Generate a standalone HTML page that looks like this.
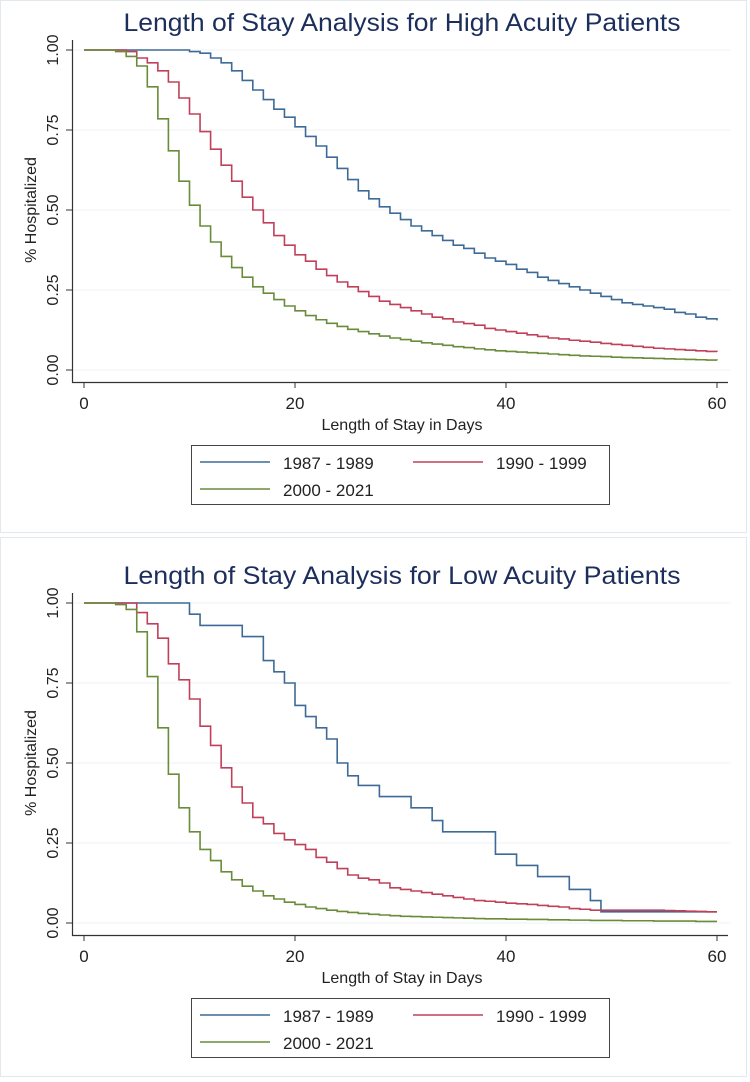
<!DOCTYPE html>
<html><head><meta charset="utf-8"><style>
body{margin:0;background:#fff;font-family:"Liberation Sans",sans-serif}
svg text{font-family:"Liberation Sans",sans-serif}
</style></head><body>
<svg id="root" width="750" height="1077" xmlns="http://www.w3.org/2000/svg"></svg>
<script>
const days = Array.from({length:61},(_,i)=>i);
const xTicks = [0,20,40,60];
const yTicks = [0,0.25,0.5,0.75,1];
const yTickLabels = ["0.00","0.25","0.50","0.75","1.00"];
const seriesNames = ["1987 - 1989","1990 - 1999","2000 - 2021"];
const highBlue = [1,1,1,1,1,1,1,1,1,1,0.995,0.99,0.975,0.96,0.935,0.905,0.875,0.845,0.815,0.79,0.76,0.73,0.70,0.665,0.63,0.595,0.56,0.535,0.51,0.49,0.47,0.45,0.435,0.42,0.405,0.39,0.38,0.365,0.35,0.34,0.33,0.315,0.305,0.29,0.28,0.27,0.26,0.25,0.24,0.23,0.22,0.21,0.205,0.2,0.195,0.19,0.18,0.175,0.165,0.16,0.155];
const highRed = [1,1,1,1,0.995,0.975,0.96,0.935,0.90,0.85,0.80,0.745,0.69,0.64,0.59,0.54,0.50,0.46,0.42,0.39,0.36,0.34,0.315,0.295,0.275,0.26,0.245,0.23,0.215,0.205,0.195,0.185,0.175,0.165,0.16,0.15,0.145,0.14,0.13,0.125,0.12,0.115,0.11,0.105,0.10,0.097,0.093,0.09,0.087,0.083,0.08,0.077,0.074,0.071,0.068,0.066,0.064,0.062,0.06,0.058,0.057];
const highGreen = [1,1,1,0.995,0.98,0.95,0.885,0.785,0.685,0.59,0.515,0.45,0.40,0.355,0.32,0.29,0.26,0.24,0.22,0.2,0.185,0.17,0.157,0.146,0.136,0.127,0.12,0.113,0.106,0.1,0.095,0.09,0.085,0.081,0.077,0.073,0.07,0.066,0.063,0.06,0.058,0.056,0.054,0.052,0.05,0.048,0.046,0.044,0.043,0.042,0.04,0.039,0.038,0.037,0.036,0.035,0.034,0.033,0.032,0.031,0.03];
const lowBlue = [1,1,1,1,1,1,1,1,1,1,0.965,0.93,0.93,0.93,0.93,0.895,0.895,0.82,0.785,0.75,0.68,0.645,0.61,0.575,0.50,0.46,0.43,0.43,0.395,0.395,0.395,0.36,0.36,0.32,0.285,0.285,0.285,0.285,0.285,0.215,0.215,0.18,0.18,0.145,0.145,0.145,0.105,0.105,0.07,0.035,0.035,0.035,0.035,0.035,0.035,0.035,0.035,0.035,0.035,0.035,0.035];
const lowRed = [1,1,1,1,1,0.97,0.935,0.89,0.81,0.76,0.70,0.615,0.555,0.485,0.425,0.375,0.33,0.31,0.28,0.26,0.245,0.23,0.205,0.19,0.17,0.15,0.14,0.135,0.125,0.11,0.105,0.1,0.095,0.09,0.085,0.08,0.075,0.07,0.068,0.065,0.062,0.06,0.058,0.055,0.052,0.05,0.045,0.043,0.04,0.04,0.04,0.04,0.04,0.04,0.04,0.039,0.038,0.037,0.036,0.035,0.035];
const lowGreen = [1,1,1,0.995,0.98,0.91,0.77,0.61,0.465,0.36,0.285,0.23,0.195,0.16,0.135,0.115,0.1,0.085,0.075,0.065,0.058,0.05,0.045,0.04,0.036,0.033,0.03,0.027,0.025,0.023,0.021,0.02,0.019,0.018,0.017,0.016,0.015,0.014,0.013,0.013,0.012,0.012,0.011,0.011,0.01,0.01,0.009,0.009,0.008,0.008,0.008,0.007,0.007,0.007,0.006,0.006,0.006,0.006,0.005,0.005,0.005];
const colors = ["#3d6a96","#c0405a","#6a8c3a"];
const NS="http://www.w3.org/2000/svg";
const root=document.getElementById('root');
function el(tag,attrs,parent){const e=document.createElementNS(NS,tag);for(const k in attrs)e.setAttribute(k,attrs[k]);(parent||root).appendChild(e);return e;}
function panel(top, frameTop, frameH, title, series, key){
  const g=el('g',{});
  
  
  const fr=el('rect',{x:0.5,y:frameTop+0.5,width:746,height:frameH,fill:'none',stroke:'#e2e8ee'},g);
  
  
  const x=t=>84+t*(633/60);
  const y=v=>top+50+(1-v)*320;
  const t=el('text',{x:402,y:top+31,'text-anchor':'middle','font-size':25,fill:'#1c2e5c',textLength:557,lengthAdjust:'spacingAndGlyphs'},g);t.textContent=title;
  
  
  yTicks.forEach((v,i)=>{
    const gl=el('line',{x1:73,x2:731,y1:y(v),y2:y(v),stroke:'#eef1f4','stroke-width':1},g);
    
    
    el('line',{x1:66,x2:73,y1:y(v),y2:y(v),stroke:'#333'},g);
    const tl=el('text',{transform:`translate(58,${y(v)}) rotate(-90)`,'text-anchor':'middle','font-size':16,fill:'#222'},g);
    tl.textContent=yTickLabels[i];
    
    
  });
  const ax=el('path',{d:`M72.5 ${top+40} V${top+382.5} H728`,fill:'none',stroke:'#333','stroke-width':1.2},g);
  
  
  xTicks.forEach(v=>{
    el('line',{x1:x(v),x2:x(v),y1:top+382,y2:top+388,stroke:'#333'},g);
    const tl=el('text',{x:x(v),y:top+409,'text-anchor':'middle','font-size':17,fill:'#222'},g);
    tl.textContent=v;
    
    
  });
  const xt=el('text',{x:402,y:top+430,'text-anchor':'middle','font-size':16,fill:'#222'},g);xt.textContent='Length of Stay in Days';
  
  
  const yt=el('text',{transform:`translate(36,${top+210}) rotate(-90)`,'text-anchor':'middle','font-size':16,fill:'#222'},g);yt.textContent='% Hospitalized';
  
  
  series.forEach((s,k)=>{
    let d=`M${x(0)} ${y(s[0])}`;
    for(let i=1;i<s.length;i++){d+=` H${x(days[i])} V${y(s[i])}`;}
    const p=el('path',{d,fill:'none',stroke:colors[k],'stroke-width':1.6},g);
    
    
  });
  const lg=el('g',{},g);
  
  
  el('rect',{x:191.5,y:top+445.5,width:418,height:59,fill:'#fff',stroke:'#444'},lg);
  const pos=[[200,top+462],[413,top+462],[200,top+489]];
  pos.forEach((pp,k)=>{
    const e=el('g',{},lg);
    
    
    el('line',{x1:pp[0],x2:pp[0]+70,y1:pp[1],y2:pp[1],stroke:colors[k],'stroke-width':1.6},e);
    const tx=el('text',{x:pp[0]+83,y:pp[1]+7,'font-size':17,fill:'#222'},e);tx.textContent=seriesNames[k];
  });
}
panel(0,0,532,'Length of Stay Analysis for High Acuity Patients',[highBlue,highRed,highGreen],'high-acuity');
panel(553,537,539,'Length of Stay Analysis for Low Acuity Patients',[lowBlue,lowRed,lowGreen],'low-acuity');
</script>
</body></html>
